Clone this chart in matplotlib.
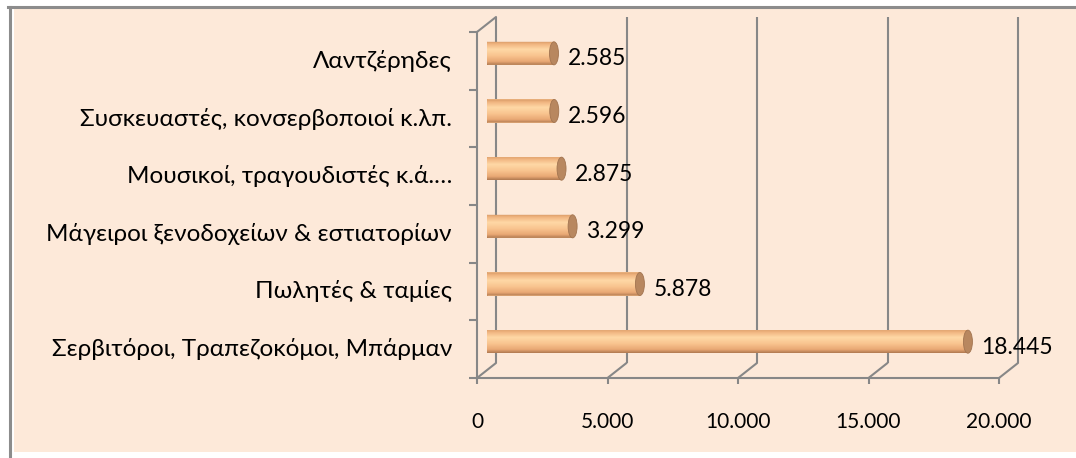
import numpy as np
import matplotlib
matplotlib.use("Agg")
import matplotlib.pyplot as plt
from matplotlib.patches import Ellipse, Rectangle, ConnectionPatch
from matplotlib.path import Path
from matplotlib.colors import LinearSegmentedColormap
from matplotlib.lines import Line2D

# ---------------- data ----------------
categories = [
    "Λαντζέρηδες",
    "Συσκευαστές, κονσερβοποιοί κ.λπ.",
    "Μουσικοί, τραγουδιστές κ.ά.…",
    "Μάγειροι ξενοδοχείων & εστιατορίων",
    "Πωλητές & ταμίες",
    "Σερβιτόροι, Τραπεζοκόμοι, Μπάρμαν",
]
values = [2585, 2596, 2875, 3299, 5878, 18445]
value_labels = ["2.585", "2.596", "2.875", "3.299", "5.878", "18.445"]
xticks = [0, 5000, 10000, 15000, 20000]
xtick_labels = ["0", "5.000", "10.000", "15.000", "20.000"]

# ---------------- style ----------------
FONT = ["Lato", "DejaVu Sans"]
plt.rcParams["font.family"] = FONT
PEACH = "#FDE9D9"
GRID = "#878787"
FRAME = "#8C8C8C"
CAP = "#B8875F"
CAP_EDGE = "#A27450"
cyl_cmap = LinearSegmentedColormap.from_list(
    "cyl",
    [(0.0, "#D49663"), (0.12, "#F0B47F"), (0.35, "#FFD8A6"),
     (0.6, "#F9C590"), (0.85, "#E9A874"), (1.0, "#AE7850")],
)

W, H = 1076, 458
fig = plt.figure(figsize=(W / 100, H / 100), dpi=100)
fig.patch.set_facecolor("white")

# chart area background and (cut) frame
fig.add_artist(Rectangle((14 / W, (H - 452) / H), (W - 14) / W, (452 - 9) / H,
                         transform=fig.transFigure, facecolor=PEACH,
                         edgecolor="none", zorder=0))
fig.add_artist(Line2D([9.5 / W, 9.5 / W], [0, (H - 6.5) / H], transform=fig.transFigure,
                      color=FRAME, lw=2.2, zorder=1))
fig.add_artist(Line2D([8 / W, 1], [(H - 6.5) / H] * 2, transform=fig.transFigure,
                      color=FRAME, lw=2.2, zorder=1))

# plot planes: front, middle (bars), back (walls)
X0, YB, PW, PH = 477, 378, 522, 346
DX, DY = 19, 15


def make_axes(dx, dy, z):
    a = fig.add_axes([(X0 + dx) / W, (H - YB + dy) / H, PW / W, PH / H])
    a.patch.set_alpha(0)
    a.set_zorder(z)
    return a


axb = make_axes(DX, DY, 1)
ax = make_axes(0, 0, 2)
axm = make_axes(DX / 2, DY / 2, 3)

n = len(categories)
ypos = np.arange(n)
XLIM = (xticks[0], xticks[-1])
YLIM = (n - 0.5, -0.5)

# back wall gridlines
axb.vlines(xticks, YLIM[0], YLIM[1], colors=GRID, lw=1.5, clip_on=False)
axb.axis("off")

# floor diagonals and left wall top edge
for x in xticks:
    fig.add_artist(ConnectionPatch(xyA=(x, YLIM[0]), coordsA=ax.transData,
                                   xyB=(x, YLIM[0]), coordsB=axb.transData,
                                   color=GRID, lw=1.5, zorder=1.5))
fig.add_artist(ConnectionPatch(xyA=(0, YLIM[1]), coordsA=ax.transData,
                               xyB=(0, YLIM[1]), coordsB=axb.transData,
                               color=GRID, lw=1.5, zorder=1.5))

# front axes (floor front edge and left wall front edge)
for s in ["top", "right"]:
    ax.spines[s].set_visible(False)
for s in ["left", "bottom"]:
    ax.spines[s].set_color(GRID)
    ax.spines[s].set_linewidth(1.5)
ax.set_xticks(xticks, xtick_labels)
ax.tick_params(axis="x", length=4.3, width=1.5, color=GRID, labelsize=15,
               pad=20, labelcolor="black")
ax.set_yticks(ypos, categories)
ax.set_yticks(np.arange(n + 1) - 0.5, minor=True)
ax.tick_params(axis="y", which="major", length=0, pad=18, labelsize=17.5,
               labelcolor="black")
ax.tick_params(axis="y", which="minor", length=5.8, width=1.5, color=GRID)
for t in ax.get_yticklabels():
    t.set_va("center")

# cylinders
BH = 0.40
CAPW = 9 * (XLIM[1] - XLIM[0]) / PW
bars = axm.barh(ypos, values, height=BH, color="#F9C590", zorder=2)
grad = np.linspace(0, 1, 256).reshape(-1, 1)
for i, (rect, v) in enumerate(zip(bars, values)):
    y0, y1 = i - BH / 2, i + BH / 2
    rpath = Path([(0, y0), (v, y0), (v, y1), (0, y1), (0, y0)],
                 [Path.MOVETO, Path.LINETO, Path.LINETO, Path.LINETO, Path.CLOSEPOLY])
    le = Ellipse((0, i), CAPW, BH)
    epath = le.get_patch_transform().transform_path(le.get_path())
    clip = Path.make_compound_path(rpath, epath)
    im = axm.imshow(grad, aspect="auto", cmap=cyl_cmap, extent=(-CAPW / 2, v, y1, y0),
                    interpolation="bilinear", zorder=3)
    im.set_clip_path(clip, axm.transData)
    axm.add_patch(Ellipse((v, i), CAPW, BH, facecolor=CAP, edgecolor=CAP_EDGE,
                          lw=0.6, zorder=4))
    axm.annotate(value_labels[i], (v, i), xytext=(13.5, -5.5), textcoords="offset pixels",
                 ha="left", va="center", fontsize=16.5, color="black",
                 annotation_clip=False)
axm.axis("off")

for a in (axb, ax, axm):
    a.set_xlim(*XLIM)
    a.set_ylim(*YLIM)

fig.savefig("out.png", dpi=100)
